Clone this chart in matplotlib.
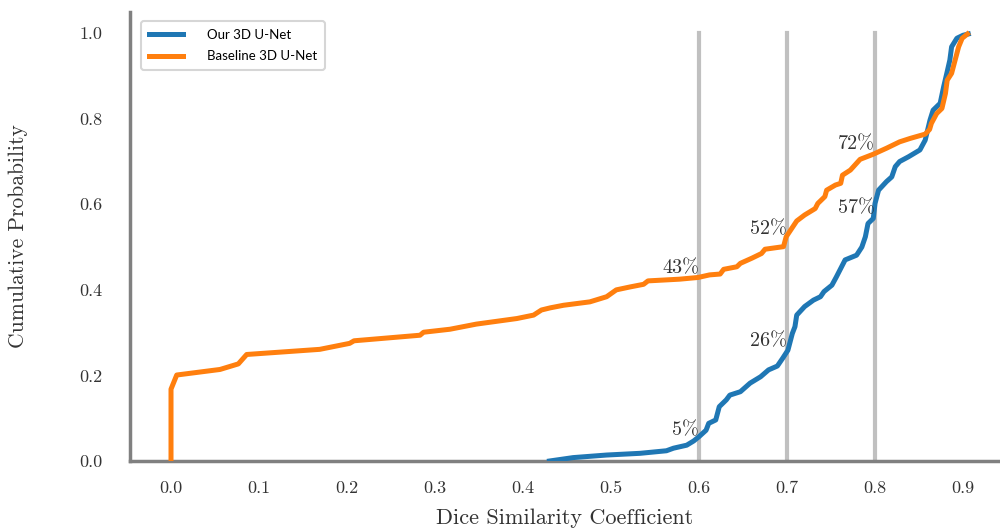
import numpy as np
import matplotlib
matplotlib.use('Agg')
import matplotlib.pyplot as plt

# cumulative curves (dice, cumulative probability)
ours_x = [0.43, 0.457, 0.495, 0.533, 0.563, 0.571, 0.586, 0.594, 0.6, 0.608,
          0.611, 0.619, 0.623, 0.631, 0.635, 0.647, 0.658, 0.67, 0.679, 0.689,
          0.695, 0.701, 0.706, 0.709, 0.711, 0.72, 0.73, 0.738, 0.742, 0.751,
          0.756, 0.762, 0.766, 0.779, 0.785, 0.789, 0.792, 0.798, 0.80, 0.804,
          0.813, 0.819, 0.823, 0.828, 0.838, 0.851, 0.857, 0.8625, 0.866, 0.874,
          0.878, 0.882, 0.885, 0.887, 0.893, 0.9, 0.906]
ours_y = [0.0, 0.008, 0.014, 0.018, 0.024, 0.03, 0.037, 0.047, 0.057, 0.072,
          0.088, 0.096, 0.127, 0.143, 0.154, 0.162, 0.182, 0.197, 0.213, 0.222,
          0.24, 0.259, 0.298, 0.314, 0.341, 0.361, 0.376, 0.384, 0.396, 0.411,
          0.43, 0.454, 0.47, 0.481, 0.50, 0.524, 0.555, 0.567, 0.602, 0.633,
          0.653, 0.664, 0.688, 0.70, 0.711, 0.727, 0.75, 0.797, 0.82, 0.836,
          0.875, 0.91, 0.937, 0.968, 0.988, 0.995, 0.998]

base_x = [0.0, 0.0, 0.0065, 0.0557, 0.0765, 0.086, 0.169, 0.203, 0.208, 0.283,
          0.287, 0.317, 0.347, 0.393, 0.412, 0.421, 0.431, 0.446, 0.476, 0.495,
          0.506, 0.522, 0.537, 0.542, 0.578, 0.599, 0.612, 0.624, 0.628, 0.643,
          0.647, 0.66, 0.671, 0.675, 0.696, 0.699, 0.711, 0.72, 0.732, 0.735,
          0.743, 0.745, 0.755, 0.761, 0.763, 0.772, 0.783, 0.798, 0.813, 0.828,
          0.84, 0.857, 0.862, 0.864, 0.87, 0.876, 0.88, 0.882, 0.887, 0.891,
          0.895, 0.899, 0.905]
base_y = [0.0, 0.168, 0.201, 0.214, 0.227, 0.249, 0.261, 0.275, 0.281, 0.294,
          0.301, 0.308, 0.320, 0.333, 0.341, 0.353, 0.358, 0.364, 0.372, 0.384,
          0.40, 0.407, 0.413, 0.421, 0.425, 0.429, 0.435, 0.437, 0.448, 0.454,
          0.462, 0.474, 0.485, 0.495, 0.501, 0.524, 0.561, 0.575, 0.59, 0.602,
          0.618, 0.633, 0.645, 0.649, 0.668, 0.68, 0.705, 0.717, 0.731, 0.746,
          0.754, 0.764, 0.775, 0.789, 0.812, 0.824, 0.859, 0.89, 0.906, 0.937,
          0.968, 0.988, 0.998]

thresholds = [0.6, 0.7, 0.8]
ours_pct = [0.05, 0.26, 0.57]
base_pct = [0.43, 0.52, 0.72]

xticks = [0.0, 0.1, 0.2, 0.3, 0.4, 0.5, 0.6, 0.7, 0.8, 0.9]
yticks = [0.0, 0.2, 0.4, 0.6, 0.8, 1.0]

plt.rcParams['font.family'] = 'cmr10'
plt.rcParams['axes.formatter.use_mathtext'] = True

fig = plt.figure(figsize=(10, 5.29), dpi=100)
ax = fig.add_axes([0.13, 0.1285, 0.87, 0.8485])

for t in thresholds:
    ax.plot([t, t], [0, 1.0], color='#c0c0c0', lw=3, zorder=1)

ax.plot(ours_x, ours_y, color='#1f77b4', lw=3.6, label='Our 3D U-Net', zorder=3)
ax.plot(base_x, base_y, color='#ff7f0e', lw=3.6, label='Baseline 3D U-Net', zorder=3)

for t, p in zip(thresholds, ours_pct):
    ax.text(t, p, '%d%%' % round(p * 100), ha='right', va='bottom',
            fontsize=14.5, color='#333333', zorder=4)
for t, p in zip(thresholds, base_pct):
    ax.text(t, p, '%d%%' % round(p * 100), ha='right', va='bottom',
            fontsize=14.5, color='#333333', zorder=4)

ax.set_xlim(-0.0466, 0.942)
ax.set_ylim(0, 1.049)
ax.set_xticks(xticks)
ax.set_xticklabels(['%.1f' % v for v in xticks])
ax.set_yticks(yticks)
ax.set_yticklabels(['%.1f' % v for v in yticks])
ax.tick_params(length=0, labelsize=13, colors='#333333', pad=14)
ax.tick_params(axis='y', pad=20)

for s in ['top', 'right']:
    ax.spines[s].set_visible(False)
for s in ['left', 'bottom']:
    ax.spines[s].set_color('#808080')
    ax.spines[s].set_linewidth(2.5)

ax.set_xlabel('Dice Similarity Coefficient', fontsize=16, color='#333333', labelpad=9)
ax.set_ylabel('Cumulative Probability', fontsize=15.5, color='#333333', labelpad=37)

leg = ax.legend(loc='upper left', bbox_to_anchor=(0.005, 0.995),
                prop={'family': 'Lato', 'size': 9.5}, frameon=True,
                handlelength=2.6, borderpad=0.6, labelspacing=0.7,
                handletextpad=1.8, fancybox=True)
leg.get_frame().set_edgecolor('#cccccc')
leg.get_frame().set_linewidth(1.5)
for h in leg.get_lines():
    h.set_linewidth(3.6)

fig.savefig('out.png', dpi=100)
